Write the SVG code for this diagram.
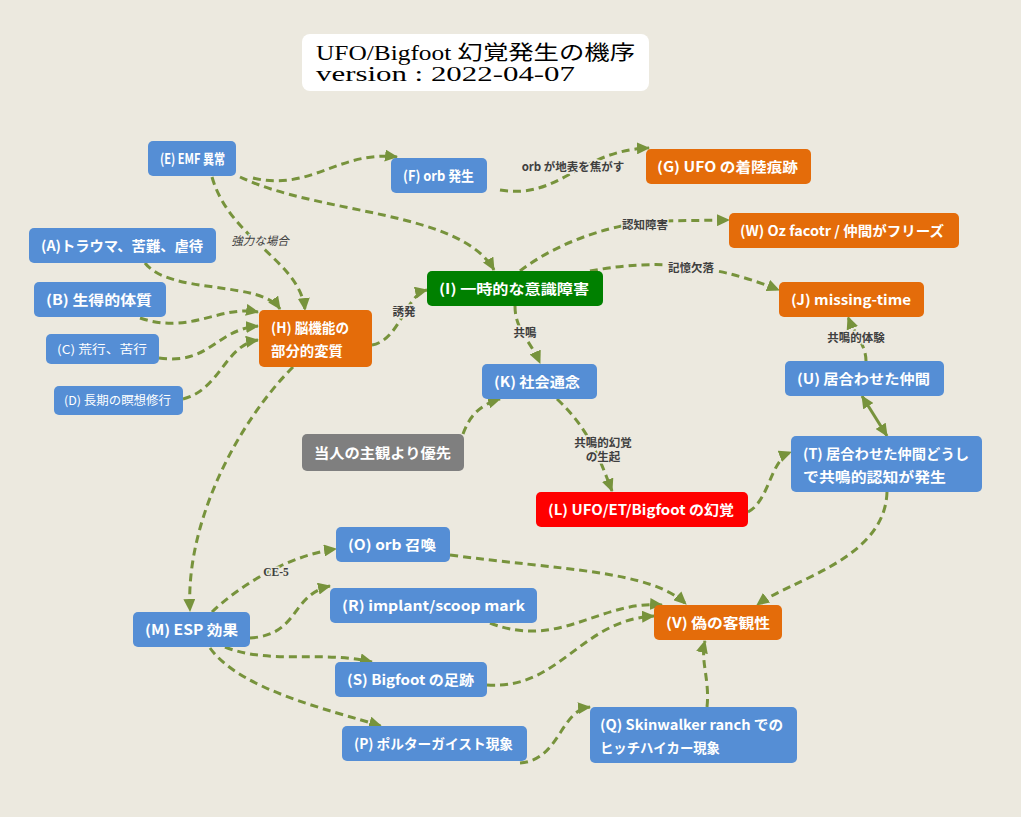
<svg xmlns="http://www.w3.org/2000/svg" width="1021" height="817" viewBox="0 0 1021 817">
<style>
.bg{fill:#ece9df}
.n rect{rx:5;ry:5}
.blue rect{fill:#558ed5}
.orange rect{fill:#e46c0a}
.green rect{fill:#008000}
.red rect{fill:#ff0000}
.gray rect{fill:#7f7f7f}
.n text{fill:#ffffff;font-family:"Noto Sans CJK JP","Noto Sans",sans-serif;font-weight:bold;font-size:14px}
.n text.s{font-size:12px;font-weight:normal}
.e path{fill:none;stroke:#77933c;stroke-width:3;stroke-dasharray:8 5;marker-end:url(#ah)}
.e path.solid{stroke-dasharray:none;marker-start:url(#ahs)}
.lb{fill:#404040;font-family:"Noto Sans CJK JP","Noto Sans",sans-serif;font-weight:bold;font-size:11.5px;text-anchor:middle;stroke:#ece9df;stroke-width:3;paint-order:stroke}
.title{font-family:"Liberation Serif","Noto Sans CJK JP",serif;font-size:20px;fill:#000}
</style>
<defs>
<marker id="ah" markerUnits="userSpaceOnUse" markerWidth="14" markerHeight="12" refX="12" refY="6" orient="auto">
<path d="M0,0 L13,6 L0,12 z" fill="#77933c"/>
</marker>
<marker id="ahs" markerUnits="userSpaceOnUse" markerWidth="14" markerHeight="12" refX="12" refY="6" orient="auto-start-reverse">
<path d="M0,0 L13,6 L0,12 z" fill="#77933c"/>
</marker>
</defs>
<rect class="bg" x="0" y="0" width="1021" height="817"/>

<g id="title">
<rect x="302" y="34" width="347" height="57" rx="8" fill="#ffffff"/>
<text class="title" x="316" y="60" textLength="319" lengthAdjust="spacingAndGlyphs">UFO/Bigfoot 幻覚発生の機序</text>
<text class="title" x="316" y="81" textLength="259" lengthAdjust="spacingAndGlyphs">version : 2022-04-07</text>
</g>

<g id="connectors" class="e">
<path d="M 253,178 C 310,192 340,150 397,157"/>
<path d="M 240,177 C 320,215 460,210 494,270"/>
<path d="M 212,177 C 230,240 300,260 305,310"/>
<path d="M 145,263 C 170,295 260,280 280,309"/>
<path d="M 140,318 C 190,335 220,305 258,312"/>
<path d="M 159,358 C 210,365 215,330 258,326"/>
<path d="M 183,399 C 220,390 225,345 258,340"/>
<path d="M 372,345 C 400,340 405,295 427,290"/>
<path d="M 293,367 C 240,420 185,520 190,611"/>
<path d="M 520,271 C 560,240 620,222 660,221 L 729,220"/>
<path d="M 590,271 C 640,262 700,258 779,290"/>
<path d="M 515,306 C 515,330 530,340 540,363"/>
<path d="M 463,434 C 470,415 480,405 500,399"/>
<path d="M 557,399 C 590,430 600,460 612,491"/>
<path d="M 748,512 C 770,500 770,460 791,452"/>
<path class="solid" d="M 862,396 L 887,436"/>
<path d="M 866,361 C 866,345 855,335 848,317"/>
<path d="M 887,492 C 885,560 790,580 757,605"/>
<path d="M 212,612 C 240,585 290,555 336,549"/>
<path d="M 250,638 C 300,635 290,595 330,586"/>
<path d="M 225,647 C 270,665 320,650 372,662"/>
<path d="M 210,648 C 240,690 330,710 381,726"/>
<path d="M 450,555 C 560,570 650,570 686,604"/>
<path d="M 490,623 C 560,650 600,600 662,605"/>
<path d="M 487,685 C 560,690 580,620 654,616"/>
<path d="M 520,763 C 560,760 560,710 590,707"/>
<path d="M 707,707 C 710,680 700,660 705,641"/>
<path d="M 500,190 C 560,200 580,150 649,148"/>
</g>

<g id="edge-labels">
<text class="lb" x="573" y="171">orb が地表を焦がす</text>
<text class="lb" x="260" y="245" font-style="italic" style="font-weight:normal">強力な場合</text>
<text class="lb" x="404" y="316">誘発</text>
<text class="lb" x="645" y="229">認知障害</text>
<text class="lb" x="691" y="272">記憶欠落</text>
<text class="lb" x="525" y="337">共鳴</text>
<text class="lb" x="856" y="342">共鳴的体験</text>
<text class="lb" x="603" y="447">共鳴的幻覚</text>
<text class="lb" x="603" y="461">の生起</text>
<text class="lb" x="276" y="576" style="font-family:'Liberation Serif',serif">CE-5</text>
</g>

<g id="nodeE" class="n blue"><rect x="148" y="141" width="88" height="35"/><text x="160" y="164" textLength="65" lengthAdjust="spacingAndGlyphs">(E) EMF 異常</text></g>
<g id="nodeF" class="n blue"><rect x="391" y="158" width="96" height="35"/><text x="403" y="181" textLength="71" lengthAdjust="spacingAndGlyphs">(F) orb 発生</text></g>
<g id="nodeG" class="n orange"><rect x="646" y="149" width="165" height="35"/><text x="657" y="172" textLength="141" lengthAdjust="spacingAndGlyphs">(G) UFO の着陸痕跡</text></g>
<g id="nodeA" class="n blue"><rect x="29" y="228" width="187" height="35"/><text x="41" y="251" textLength="162" lengthAdjust="spacingAndGlyphs">(A)トラウマ、苦難、虐待</text></g>
<g id="nodeB" class="n blue"><rect x="34" y="282" width="132" height="35"/><text x="46" y="305" textLength="106" lengthAdjust="spacingAndGlyphs">(B) 生得的体質</text></g>
<g id="nodeC" class="n blue"><rect x="46" y="334" width="113" height="30"/><text class="s" x="57" y="354" textLength="90" lengthAdjust="spacingAndGlyphs">(C) 荒行、苦行</text></g>
<g id="nodeD" class="n blue"><rect x="54" y="386" width="129" height="29"/><text class="s" x="64" y="405" textLength="107" lengthAdjust="spacingAndGlyphs">(D) 長期の瞑想修行</text></g>
<g id="nodeH" class="n orange"><rect x="259" y="310" width="113" height="57"/><text x="271" y="333" textLength="78" lengthAdjust="spacingAndGlyphs">(H) 脳機能の</text><text x="271" y="356" textLength="72" lengthAdjust="spacingAndGlyphs">部分的変質</text></g>
<g id="nodeI" class="n green"><rect x="427" y="271" width="176" height="35"/><text x="439" y="294" textLength="150" lengthAdjust="spacingAndGlyphs">(I) 一時的な意識障害</text></g>
<g id="nodeW" class="n orange"><rect x="729" y="213" width="230" height="35"/><text x="740" y="236" textLength="204" lengthAdjust="spacingAndGlyphs">(W) Oz facotr / 仲間がフリーズ</text></g>
<g id="nodeJ" class="n orange"><rect x="779" y="282" width="145" height="35"/><text x="791" y="305" textLength="120" lengthAdjust="spacingAndGlyphs">(J) missing-time</text></g>
<g id="nodeK" class="n blue"><rect x="482" y="364" width="115" height="35"/><text x="494" y="387" textLength="86" lengthAdjust="spacingAndGlyphs">(K) 社会通念</text></g>
<g id="nodeU" class="n blue"><rect x="785" y="361" width="159" height="35"/><text x="797" y="384" textLength="133" lengthAdjust="spacingAndGlyphs">(U) 居合わせた仲間</text></g>
<g id="nodeSubj" class="n gray"><rect x="302" y="434" width="162" height="37"/><text x="314" y="458" textLength="137" lengthAdjust="spacingAndGlyphs">当人の主観より優先</text></g>
<g id="nodeT" class="n blue"><rect x="791" y="436" width="191" height="56"/><text x="803" y="459" textLength="166" lengthAdjust="spacingAndGlyphs">(T) 居合わせた仲間どうし</text><text x="803" y="482" textLength="143" lengthAdjust="spacingAndGlyphs">で共鳴的認知が発生</text></g>
<g id="nodeL" class="n red"><rect x="536" y="492" width="212" height="35"/><text x="548" y="515" textLength="186" lengthAdjust="spacingAndGlyphs">(L) UFO/ET/Bigfoot の幻覚</text></g>
<g id="nodeO" class="n blue"><rect x="336" y="527" width="114" height="35"/><text x="348" y="550" textLength="88" lengthAdjust="spacingAndGlyphs">(O) orb 召喚</text></g>
<g id="nodeR" class="n blue"><rect x="330" y="588" width="207" height="35"/><text x="342" y="611" textLength="183" lengthAdjust="spacingAndGlyphs">(R) implant/scoop mark</text></g>
<g id="nodeM" class="n blue"><rect x="133" y="612" width="117" height="35"/><text x="145" y="635" textLength="93" lengthAdjust="spacingAndGlyphs">(M) ESP 効果</text></g>
<g id="nodeV" class="n orange"><rect x="654" y="605" width="128" height="35"/><text x="666" y="628" textLength="104" lengthAdjust="spacingAndGlyphs">(V) 偽の客観性</text></g>
<g id="nodeS" class="n blue"><rect x="335" y="662" width="152" height="35"/><text x="347" y="685" textLength="127" lengthAdjust="spacingAndGlyphs">(S) Bigfoot の足跡</text></g>
<g id="nodeQ" class="n blue"><rect x="590" y="707" width="207" height="56"/><text x="600" y="730" textLength="183" lengthAdjust="spacingAndGlyphs">(Q) Skinwalker ranch での</text><text x="600" y="753" textLength="120" lengthAdjust="spacingAndGlyphs">ヒッチハイカー現象</text></g>
<g id="nodeP" class="n blue"><rect x="342" y="726" width="185" height="35"/><text x="354" y="749" textLength="159" lengthAdjust="spacingAndGlyphs">(P) ポルターガイスト現象</text></g>
</svg>
